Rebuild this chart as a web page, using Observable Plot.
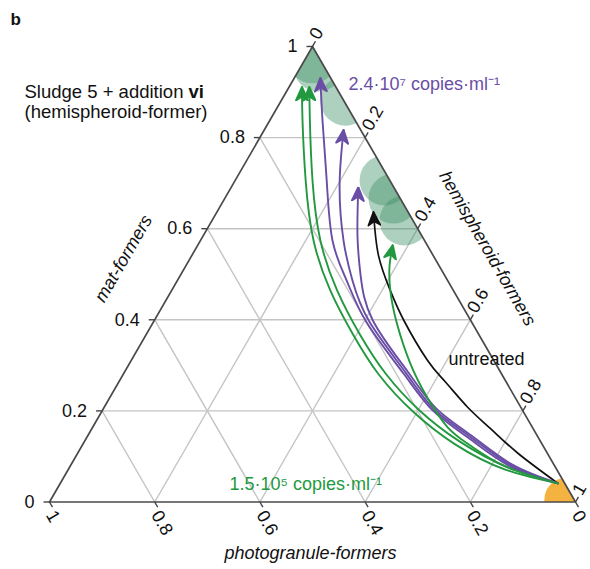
<!DOCTYPE html>
<html><head><meta charset="utf-8">
<script src="https://cdn.jsdelivr.net/npm/d3@7"></script>
<script src="https://cdn.jsdelivr.net/npm/@observablehq/plot@0.6"></script>
<style>body{margin:0;background:#fff}</style>
</head><body><div id="chart"></div>
<script>
// ---- data (ternary fractions: mat-formers, hemispheroid-formers; photogranule = 1 - both) ----
const tickValues = [0, 0.2, 0.4, 0.6, 0.8, 1];
const matTickLabels = ["0", "0.2", "0.4", "0.6", "0.8", "1"];
const photoTickLabels = ["0", "0.2", "0.4", "0.6", "0.8", "1"];
const hemiTickLabels = ["0", "0.2", "0.4", "0.6", "0.8", "1"];
const gridValues = [0.2, 0.4, 0.6, 0.8];

// trajectories: from untreated start to end state
const green1Mat  = [0.041, 0.071, 0.126, 0.197, 0.280, 0.370, 0.464, 0.574, 0.706, 0.838, 0.910];
const green1Hemi = [0.946, 0.831, 0.709, 0.594, 0.486, 0.391, 0.302, 0.215, 0.134, 0.062, 0.025];
const green2Mat  = [0.041, 0.076, 0.133, 0.201, 0.282, 0.370, 0.464, 0.574, 0.706, 0.838, 0.910];
const green2Hemi = [0.946, 0.833, 0.713, 0.603, 0.498, 0.404, 0.315, 0.228, 0.147, 0.076, 0.039];
const green3Mat  = [0.041, 0.078, 0.124, 0.164, 0.229, 0.304, 0.394, 0.464, 0.519, 0.563];
const green3Hemi = [0.946, 0.828, 0.738, 0.675, 0.604, 0.534, 0.463, 0.416, 0.387, 0.371];
const purple1Mat  = [0.041, 0.078, 0.142, 0.201, 0.282, 0.394, 0.486, 0.574, 0.706, 0.838, 0.930];
const purple1Hemi = [0.946, 0.837, 0.724, 0.628, 0.532, 0.406, 0.322, 0.251, 0.174, 0.100, 0.050];
const purple2Mat  = [0.041, 0.080, 0.144, 0.203, 0.284, 0.396, 0.486, 0.574, 0.695, 0.816];
const purple2Hemi = [0.946, 0.838, 0.727, 0.630, 0.535, 0.410, 0.333, 0.272, 0.204, 0.151];
const purple3Mat  = [0.041, 0.082, 0.146, 0.205, 0.287, 0.399, 0.497, 0.585, 0.690];
const purple3Hemi = [0.946, 0.839, 0.729, 0.633, 0.537, 0.415, 0.343, 0.293, 0.242];
const untreatedMat  = [0.041, 0.107, 0.161, 0.208, 0.265, 0.311, 0.399, 0.464, 0.541, 0.636];
const untreatedHemi = [0.946, 0.837, 0.758, 0.691, 0.619, 0.563, 0.474, 0.416, 0.355, 0.298];

// state clouds (green discs = end states, orange = start state)
const endStateMat  = [0.974, 0.956, 0.881, 0.706, 0.666, 0.618];
const endStateHemi = [0.013, 0.033, 0.122, 0.284, 0.321, 0.366];
const startStateMat  = [0.005];
const startStateHemi = [0.980];

// ---- layout ----
const W = 590, Hgt = 569;
const X0 = 49, X1 = 575, YB = 501.5;
const S3 = Math.sqrt(3) / 2;
const YT = YB - (X1 - X0) * S3;
const U = 1 / (X1 - X0); // data units per pixel
const cart = (m, h) => ({x: h + m / 2, y: m * S3});
const FONT = "Liberation Sans, Arial, Helvetica, sans-serif";

const GREEN = "#23993f", PURPLE = "#6a4ea6", DISC = "#3d8f63", ORANGE = "#f4b340";

const series = (mats, hemis) => mats.map((m, i) => cart(m, hemis[i]));

// grid
const gridRows = [];
for (const g of gridValues) {
  const a = cart(g, 0), b = cart(g, 1 - g);
  gridRows.push({x1: a.x, y1: a.y, x2: b.x, y2: b.y});
  const c = cart(0, g), d = cart(1 - g, g);
  gridRows.push({x1: c.x, y1: c.y, x2: d.x, y2: d.y});
  const e = cart(0, 1 - g), f = cart(1 - g, 0);
  gridRows.push({x1: e.x, y1: e.y, x2: f.x, y2: f.y});
}
const tri = [cart(0, 0), cart(1, 0), cart(0, 1), cart(0, 0)];

const leftPts = tickValues.map((t, i) => ({...cart(t, 0), label: matTickLabels[i]}));
const bottomPts = tickValues.map((t, i) => ({...cart(0, 1 - t), label: photoTickLabels[i]}));
const rightPts = tickValues.map((t, i) => ({...cart(1 - t, t), label: hemiTickLabels[i]}));

const tickLinks = (pts, dxp, dyp) => Plot.link(pts, {
  x1: "x", y1: "y", x2: d => d.x + dxp * U, y2: d => d.y - dyp * U,
  stroke: "#444", strokeWidth: 1.4
});

function arrowHead(color, context) {
  const ns = "http://www.w3.org/2000/svg";
  const doc = context && context.document ? context.document : document;
  const m = doc.createElementNS(ns, "marker");
  m.setAttribute("viewBox", "-14 -7 15 14");
  m.setAttribute("markerWidth", 15);
  m.setAttribute("markerHeight", 14);
  m.setAttribute("markerUnits", "userSpaceOnUse");
  m.setAttribute("orient", "auto");
  m.setAttribute("refX", 0);
  m.setAttribute("refY", 0);
  const p = doc.createElementNS(ns, "path");
  p.setAttribute("d", "M0.5,0L-13,-6L-9,0L-13,6Z");
  p.setAttribute("fill", color);
  m.appendChild(p);
  return m;
}

const traj = (pts, color, sw) => Plot.line(pts, {
  x: "x", y: "y", stroke: color, strokeWidth: sw, curve: "natural", markerEnd: arrowHead
});

const annot = (text, px, py, opts = {}) => Plot.text([text], {
  frameAnchor: "top-left", dx: px, dy: py, text: d => d,
  textAnchor: "start", lineAnchor: "middle", fontSize: 18, fill: "#111", ...opts
});

const discs = series(endStateMat, endStateHemi);
const startDisc = series(startStateMat, startStateHemi);

const chart = Plot.plot({
  width: W, height: Hgt,
  marginTop: 0, marginRight: 0, marginBottom: 0, marginLeft: 0,
  x: {domain: [0, 1], range: [X0, X1], axis: null},
  y: {domain: [0, S3], range: [YB, YT], axis: null},
  style: {fontFamily: FONT, fontSize: "18px", background: "white"},
  marks: [
    Plot.link(gridRows, {x1: "x1", y1: "y1", x2: "x2", y2: "y2", stroke: "#c4c4c4", strokeWidth: 1.4}),
    Plot.dot(discs, {x: "x", y: "y", r: 25, fill: DISC, fillOpacity: 0.42, stroke: "none"}),
    Plot.dot(startDisc, {x: "x", y: "y", r: 22, fill: ORANGE, stroke: "none"}),
    Plot.line(tri, {x: "x", y: "y", stroke: "#4a4a4a", strokeWidth: 1.7}),
    tickLinks(leftPts, -6, 0),
    tickLinks(bottomPts, 3, 5.2),
    tickLinks(rightPts, 3, -5.2),
    Plot.text(leftPts, {x: "x", y: "y", text: "label", dx: -15, textAnchor: "end", fontSize: 18, fill: "#111"}),
    Plot.text(bottomPts, {x: "x", y: "y", text: "label", dx: 1, dy: 10, rotate: 60, textAnchor: "start", fontSize: 18, fill: "#111"}),
    Plot.text(rightPts, {x: "x", y: "y", text: "label", dx: 1.5, dy: -8.5, rotate: -60, textAnchor: "start", fontSize: 18, fill: "#111"}),
    traj(series(green1Mat, green1Hemi), GREEN, 1.9),
    traj(series(green2Mat, green2Hemi), GREEN, 1.9),
    traj(series(untreatedMat, untreatedHemi), "#111", 1.7),
    traj(series(purple1Mat, purple1Hemi), PURPLE, 1.9),
    traj(series(purple2Mat, purple2Hemi), PURPLE, 1.9),
    traj(series(purple3Mat, purple3Hemi), PURPLE, 1.9),
    traj(series(green3Mat, green3Hemi), GREEN, 1.9),
    annot("b", 10, 19, {fontWeight: "bold", fontSize: 17}),
    annot("Sludge 5 + addition ", 24, 92, {fontSize: 18.5}),
    annot("vi", 188, 92, {fontWeight: "bold", fontSize: 18.5}),
    annot("(hemispheroid-former)", 24, 112, {fontSize: 18.5}),
    annot("2.4·10⁷ copies·ml⁻¹", 348, 84, {fill: PURPLE}),
    annot("1.5·10⁵ copies·ml⁻¹", 229, 484, {fill: GREEN}),
    annot("untreated", 486, 359, {textAnchor: "middle"}),
    annot("mat-formers", 123, 258, {textAnchor: "middle", rotate: -60, fontStyle: "italic"}),
    annot("hemispheroid-formers", 487, 248, {textAnchor: "middle", rotate: 60, fontStyle: "italic"}),
    annot("photogranule-formers", 310, 553, {textAnchor: "middle", fontStyle: "italic"})
  ]
});

// clip the state discs to the triangle
const svg = d3.select(chart);
const xs = chart.scale("x"), ys = chart.scale("y");
const defs = svg.insert("defs", ":first-child");
defs.append("clipPath").attr("id", "tri-clip")
  .append("polygon")
  .attr("points", tri.slice(0, 3).map(p => `${xs.apply(p.x)},${ys.apply(p.y)}`).join(" "));
svg.selectAll('g[aria-label="dot"]').attr("clip-path", "url(#tri-clip)");

document.getElementById("chart").appendChild(chart);
</script>
</body></html>
